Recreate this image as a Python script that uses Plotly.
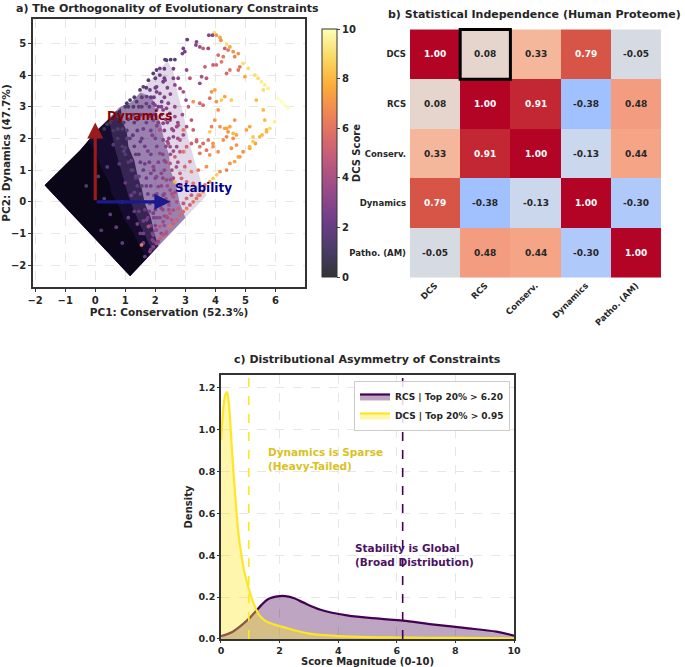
import plotly.graph_objects as go

FONT = "DejaVu Sans"
INK = "#262626"

# ---------------- a) PCA cloud ----------------
# outlines of the dense part of the cloud, from the packed core outwards (PC1, PC2)
core_l1_x = [-1.68, 1.16, 1.72, 1.45, 1.25, 0.95, 0.80, 0.55, 0.45, 0.20, 0.05, -0.20, -0.50, -1.68]
core_l1_y = [0.52, -2.34, -1.78, -1.35, -0.95, -0.55, -0.15, 0.25, 0.65, 1.05, 1.45, 1.95, 1.63, 0.52]
core_l2_x = [-1.68, 1.16, 1.92, 1.70, 1.50, 1.30, 1.10, 0.95, 0.80, 0.65, 0.45, 0.06, -0.50, -1.68]
core_l2_y = [0.52, -2.34, -1.58, -1.15, -0.75, -0.30, 0.20, 0.70, 1.20, 1.70, 2.60, 2.26, 1.63, 0.52]
core_l3_x = [-1.68, 1.16, 2.10, 1.95, 1.85, 1.65, 1.55, 1.40, 1.30, 1.10, 1.05, 0.90, 0.85, 0.06, -0.50, -1.68]
core_l3_y = [0.52, -2.34, -1.40, -0.95, -0.50, -0.05, 0.40, 0.85, 1.30, 1.75, 2.20, 2.55, 2.95, 2.26, 1.63, 0.52]
core_l4_x = [-1.68, 1.16, 3.00, 2.80, 2.70, 2.50, 2.45, 2.30, 2.20, 2.00, 1.90, 1.50, 1.20, 0.82, 0.06, -0.50, -1.68]
core_l4_y = [0.52, -2.34, -0.50, 0.00, 0.50, 1.00, 1.50, 1.90, 2.40, 2.90, 3.30, 3.45, 3.15, 2.99, 2.26, 1.63, 0.52]
core_l5_x = [-1.68, 1.16, 3.70, 3.50, 3.30, 3.10, 2.95, 2.75, 2.60, 2.40, 1.90, 1.50, 1.20, 0.82, 0.06, -0.50, -1.68]
core_l5_y = [0.52, -2.34, 0.20, 0.70, 1.30, 2.00, 2.70, 3.40, 4.10, 4.45, 3.90, 3.45, 3.15, 2.99, 2.26, 1.63, 0.52]

# single proteins outside the dense core: (PC1, PC2, DCS score)
pts_top = [
    (3.96, 5.34, 9.0), (3.78, 5.26, 3.0), (3.90, 5.26, 3.0), (4.03, 5.26, 7.0), (4.15, 5.19, 7.5),
    (4.18, 5.10, 7.0), (4.37, 4.98, 9.0), (4.48, 4.89, 7.5), (4.31, 4.84, 5.0), (4.42, 4.79, 6.0),
    (4.59, 4.74, 7.0), (4.09, 4.63, 5.5), (4.26, 4.58, 6.0), (4.64, 4.58, 6.5), (4.76, 4.68, 7.0),
    (3.37, 5.05, 3.0), (3.35, 4.95, 3.0), (3.48, 4.89, 3.5), (3.59, 4.84, 5.0), (3.76, 4.84, 3.5),
    (3.06, 5.12, 2.0), (2.93, 4.84, 2.5), (2.98, 4.74, 2.5), (2.90, 4.68, 2.5), (4.20, 4.42, 6.0),
    (4.03, 4.32, 5.5), (3.92, 4.32, 5.0), (4.81, 4.26, 6.0), (4.76, 4.16, 6.0), (4.92, 4.37, 9.0),
    (5.09, 4.21, 9.0), (4.48, 4.16, 6.0), (4.37, 4.05, 5.5), (3.65, 4.26, 5.0), (3.54, 3.95, 4.0),
    (3.70, 3.90, 4.5), (3.48, 3.74, 3.5), (3.15, 3.90, 4.5), (3.04, 4.16, 3.5), (2.76, 3.90, 3.0),
    (2.65, 3.69, 3.0), (2.82, 3.58, 3.5), (2.93, 3.47, 4.0), (3.02, 3.21, 3.5), (3.10, 3.00, 5.0),
    (3.26, 3.16, 7.0), (3.48, 3.11, 5.5), (3.59, 3.05, 5.5), (3.81, 3.27, 6.0), (3.87, 3.47, 7.0),
    (3.98, 3.53, 7.5), (4.03, 3.16, 7.0), (4.20, 3.21, 8.5), (4.31, 3.32, 7.5), (4.53, 3.21, 8.5),
    (4.98, 3.95, 7.5), (5.31, 4.00, 9.0), (5.42, 3.90, 9.0), (5.53, 3.79, 9.5), (5.64, 3.69, 9.5),
    (5.75, 3.58, 9.5), (5.59, 3.53, 9.0), (5.36, 3.21, 8.0), (5.59, 2.90, 8.0), (6.08, 3.26, 10.0),
    (6.20, 3.16, 10.0), (6.31, 3.05, 10.0), (6.42, 2.95, 10.0), (5.97, 2.53, 9.5),
]
pts_mid = [
    (5.64, 2.58, 8.0), (5.70, 2.27, 8.0), (5.55, 2.11, 8.0), (5.14, 2.37, 7.5), (5.03, 2.27, 7.5),
    (5.25, 2.05, 8.5), (5.33, 1.84, 7.5), (5.14, 1.69, 7.5), (4.92, 1.58, 7.0), (4.70, 2.11, 7.5),
    (4.64, 2.58, 7.0), (4.48, 2.37, 7.5), (4.42, 2.21, 7.0), (4.31, 2.32, 7.5), (4.37, 2.05, 6.5),
    (4.59, 2.00, 7.0), (4.70, 1.79, 7.0), (4.53, 1.69, 7.0), (4.81, 1.42, 7.0), (4.09, 2.90, 7.0),
    (3.98, 2.58, 7.0), (3.87, 2.37, 6.5), (3.81, 2.21, 8.5), (3.92, 1.74, 7.0), (4.09, 1.58, 7.0),
    (3.76, 1.95, 6.0), (3.59, 1.84, 5.5), (3.48, 1.74, 6.0), (3.37, 1.90, 5.0), (3.20, 2.58, 4.5),
    (3.26, 2.27, 5.0), (3.04, 2.37, 4.0), (2.93, 2.11, 3.5), (2.82, 1.95, 4.5), (2.71, 2.37, 3.5),
    (2.65, 2.69, 3.5), (2.48, 2.79, 3.0), (2.43, 3.11, 3.0), (2.26, 2.90, 3.0), (2.15, 3.42, 3.0),
    (2.04, 3.63, 2.5), (2.32, 3.84, 2.5), (2.15, 4.21, 2.5), (2.32, 4.49, 1.5), (2.51, 4.49, 1.5),
    (2.65, 4.49, 1.5), (1.99, 3.05, 3.0), (1.93, 2.58, 3.0),
]
pts_ridge = [
    (2.37, 4.47, 1.5), (2.04, 4.16, 1.5), (1.93, 4.05, 1.5), (2.15, 4.00, 2.0), (1.77, 3.84, 1.5),
    (2.26, 3.79, 2.0), (1.60, 3.63, 1.5), (1.49, 3.53, 1.2), (1.82, 3.53, 2.0), (2.04, 3.47, 2.5),
    (1.71, 3.32, 2.0), (1.16, 3.21, 1.0), (1.05, 3.11, 1.0), (1.27, 3.00, 1.2), (1.38, 3.16, 1.2),
    (1.93, 3.11, 2.5), (2.21, 3.16, 2.5), (2.37, 2.95, 3.0), (2.04, 2.90, 2.5), (2.26, 2.48, 3.0),
    (2.49, 2.58, 3.0), (2.76, 2.42, 4.0), (2.93, 2.27, 6.0), (2.60, 2.05, 3.0), (2.43, 1.84, 4.0),
    (2.71, 1.74, 3.5), (2.93, 1.58, 6.0), (1.70, 3.60, 1.6), (2.00, 3.60, 2.0), (2.40, 3.60, 2.6),
    (2.00, 3.90, 1.8), (2.30, 3.90, 2.2), (2.60, 3.90, 2.8), (2.30, 4.20, 1.8), (2.60, 4.20, 2.5),
]
pts_edge = [
    (5.81, 2.32, 9.0), (5.70, 2.21, 8.0), (5.47, 2.05, 8.0), (5.25, 1.90, 8.5), (5.14, 1.74, 8.0),
    (4.76, 1.42, 7.5), (4.64, 1.27, 7.5), (4.48, 1.21, 7.0), (4.37, 1.00, 6.5), (4.15, 0.95, 7.0),
    (4.04, 0.85, 8.5), (3.92, 0.74, 8.5), (3.81, 0.63, 7.0), (3.65, 0.53, 6.0), (3.59, 0.32, 7.0),
    (3.48, 0.21, 6.0), (3.37, 0.11, 6.0), (3.26, 0.00, 6.0), (3.15, -0.10, 5.0), (3.04, -0.21, 6.5),
    (2.93, -0.31, 5.5), (2.82, -0.42, 5.5), (2.71, -0.57, 5.0), (2.60, -0.68, 5.0), (2.49, -0.78, 6.0),
    (2.37, -0.94, 4.5), (2.26, -1.05, 4.5), (2.15, -1.15, 5.0), (2.04, -1.31, 3.5), (1.93, -1.42, 3.0),
    (1.82, -1.57, 3.0), (1.65, -1.73, 2.0), (1.54, -1.36, 6.0),
]
pts_inner = [
    (4.15, 2.37, 7.0), (4.37, 2.32, 7.5), (4.59, 2.16, 8.0), (4.26, 1.95, 7.0), (3.92, 1.84, 7.0),
    (3.70, 1.63, 6.0), (3.81, 1.48, 7.0), (3.48, 1.53, 6.0), (3.37, 1.95, 5.5), (3.20, 1.84, 5.0),
    (3.04, 1.74, 5.5), (3.15, 1.27, 5.5), (2.98, 1.11, 5.5), (3.20, 0.95, 6.5), (3.43, 1.00, 6.0),
    (3.70, 1.11, 7.0), (2.82, 0.90, 5.0), (2.65, 0.63, 8.0), (2.87, 0.74, 5.5), (3.04, 0.63, 5.0),
    (3.26, 0.58, 6.0), (3.43, 0.21, 6.5), (3.20, 0.21, 5.0), (3.04, 0.11, 5.5), (2.93, -0.05, 4.5),
    (2.71, 0.00, 4.0), (2.76, -0.21, 5.0), (2.60, -0.26, 4.0), (2.49, -0.36, 4.5), (2.37, -0.47, 4.0),
    (2.54, -0.57, 4.5), (2.26, -0.63, 3.5), (2.15, -0.78, 4.5), (2.04, -0.89, 3.5), (1.93, -1.05, 3.0),
    (2.49, 0.37, 3.5), (2.60, 0.16, 4.5), (2.26, 0.21, 3.0), (2.37, 0.69, 3.5), (2.49, 1.21, 4.5),
    (2.65, 1.42, 5.0), (2.82, 1.58, 4.5), (2.49, 1.74, 3.5), (2.26, 1.95, 3.0), (2.15, 1.53, 3.0),
    (2.15, 2.27, 4.0), (1.93, 1.11, 3.0), (2.04, 0.79, 3.0), (2.10, 0.48, 3.0), (1.82, -0.05, 2.5),
    (1.93, -0.36, 2.5), (1.71, -0.57, 2.5), (1.77, -0.78, 4.0), (1.60, -1.00, 2.5),
]
pts_band = [
    (1.40, 2.60, 1.8), (1.60, 2.30, 2.2), (1.80, 2.70, 2.4), (1.50, 1.90, 2.0), (1.75, 1.60, 2.5),
    (1.90, 2.10, 2.6), (2.05, 2.40, 2.8), (1.65, 1.20, 2.2), (1.85, 0.90, 2.6), (1.70, 0.50, 2.3),
    (1.95, 0.20, 2.8), (2.20, 0.90, 3.0), (2.30, 1.30, 3.2), (2.40, 1.90, 3.3), (2.35, 2.60, 3.0),
    (2.55, 2.30, 3.4), (1.55, 0.00, 2.2), (1.80, -0.30, 2.6), (2.05, -0.50, 3.0), (2.20, -0.20, 3.2),
    (2.35, 0.10, 3.4), (1.45, 0.80, 2.0), (1.35, 1.50, 1.8), (1.25, 2.10, 1.6), (1.10, 2.60, 1.4),
    (1.45, 3.00, 1.6), (1.70, 3.10, 2.0), (1.95, 3.30, 2.2), (2.20, 3.00, 2.8), (2.50, 3.40, 3.0),
    (2.60, 1.60, 3.6), (2.70, 1.10, 3.8), (2.50, 0.70, 3.6), (2.65, 0.30, 3.8), (2.45, -0.10, 3.6),
    (2.30, -0.45, 3.5), (2.00, -0.90, 3.2), (1.90, -1.20, 2.8), (1.60, -0.60, 2.4), (1.45, -0.30, 2.0),
    (1.30, 0.30, 1.8), (1.20, 1.00, 1.6), (1.00, 1.70, 1.4), (0.90, 2.30, 1.2), (0.75, 2.70, 1.0),
    (0.55, 2.60, 0.8), (0.40, 2.45, 0.8), (0.30, 2.30, 0.6), (0.70, 2.80, 0.9), (1.00, 3.00, 1.1),
    (1.30, 3.30, 1.3), (1.55, 3.30, 1.6), (1.85, 3.30, 2.0), (2.30, 3.30, 2.6), (1.10, 3.00, 1.1),
    (1.55, 3.00, 1.7), (1.80, 3.00, 2.0), (2.10, 3.00, 2.4), (2.65, 3.00, 3.2), (0.80, 2.75, 0.9),
    (1.25, 2.75, 1.4), (1.50, 2.75, 1.7), (1.95, 2.75, 2.3), (2.20, 2.75, 2.8), (2.90, 2.75, 3.8),
    (0.50, 2.50, 0.7), (0.95, 2.50, 1.1), (1.30, 2.50, 1.6), (1.70, 2.50, 2.1), (2.10, 2.50, 2.6),
    (2.40, 2.50, 3.0), (2.75, 2.50, 3.2), (0.60, 2.25, 0.9), (1.05, 2.25, 1.3), (1.40, 2.25, 1.8),
    (1.85, 2.25, 2.4), (2.30, 2.25, 2.9), (2.60, 2.25, 3.4), (0.75, 2.00, 1.0), (1.15, 2.00, 1.5),
    (1.55, 2.00, 2.0), (2.00, 2.00, 2.5), (2.45, 2.00, 3.2), (2.75, 2.00, 3.6), (0.90, 1.75, 1.2),
    (1.30, 1.75, 1.6), (1.65, 1.75, 2.2), (2.05, 1.75, 2.7), (2.35, 1.75, 3.0), (1.00, 1.50, 1.3),
    (1.45, 1.50, 1.8), (1.85, 1.50, 2.4), (2.25, 1.50, 2.9), (2.50, 1.50, 3.6), (1.10, 1.25, 1.4),
    (1.50, 1.25, 2.0), (1.80, 1.25, 2.3), (2.10, 1.25, 2.8), (2.35, 1.25, 3.4), (2.75, 1.25, 4.0),
    (1.25, 1.00, 1.5), (1.60, 1.00, 2.0), (1.95, 1.00, 2.6), (2.30, 1.00, 3.1), (2.55, 1.00, 3.8),
    (1.35, 0.75, 1.6), (1.70, 0.75, 2.2), (2.00, 0.75, 2.7), (2.25, 0.75, 3.0), (2.60, 0.75, 3.8),
    (1.40, 0.50, 1.6), (1.55, 0.50, 2.0), (1.85, 0.50, 2.5), (2.20, 0.50, 3.2), (2.40, 0.50, 3.7),
    (2.85, 0.50, 4.4), (1.50, 0.25, 1.8), (1.75, 0.25, 2.2), (2.05, 0.25, 2.8), (2.30, 0.25, 3.3),
    (2.55, 0.25, 4.0), (1.65, 0.00, 2.0), (1.95, 0.00, 2.6), (2.15, 0.00, 3.0), (2.45, 0.00, 3.6),
    (1.65, -0.25, 2.0), (2.00, -0.25, 2.7), (2.25, -0.25, 3.2), (2.45, -0.25, 3.8), (1.75, -0.50, 2.3),
    (1.95, -0.50, 2.6), (2.15, -0.50, 3.0), (2.40, -0.50, 3.7), (1.85, -0.75, 2.5), (2.00, -0.75, 2.8),
    (2.30, -0.75, 3.6), (1.90, -1.00, 2.6), (2.20, -1.00, 3.2), (2.35, -1.00, 4.0), (1.95, -1.25, 2.6),
    (2.10, -1.25, 3.0), (1.85, -1.50, 2.4),
]
# lighter specks inside the dark core
pts_core = [
    (0.90, 0.00, 2.0), (1.10, -0.50, 2.2), (1.30, -0.30, 1.8), (1.00, 0.60, 2.0), (0.80, 1.20, 1.6),
    (0.60, 1.80, 1.5), (1.20, 0.20, 2.4), (1.50, -1.00, 2.2), (1.40, -0.70, 2.6), (0.95, 1.60, 1.8),
    (0.75, 2.30, 1.4), (1.05, 2.00, 1.8), (1.20, 1.30, 2.0), (1.60, -1.30, 2.4), (1.35, 0.80, 2.2),
    (0.30, 0.10, 1.5), (0.50, -0.40, 1.8), (0.10, 0.80, 1.4), (0.70, -0.80, 2.0), (0.20, -0.90, 1.5),
    (-0.30, 0.50, 1.2), (0.90, -1.30, 1.8), (0.40, 1.10, 1.5),
]

# PCA loading arrows
loading_names = ["Dynamics", "Stability"]
loading_dx = [0.0, 2.5]
loading_dy = [2.5, 0.0]

# ---------------- b) correlation matrix ----------------
labels = ["DCS", "RCS", "Conserv.", "Dynamics", "Patho. (AM)"]
corr = [
    [1.00, 0.08, 0.33, 0.79, -0.05],
    [0.08, 1.00, 0.91, -0.38, 0.48],
    [0.33, 0.91, 1.00, -0.13, 0.44],
    [0.79, -0.38, -0.13, 1.00, -0.30],
    [-0.05, 0.48, 0.44, -0.30, 1.00],
]
highlight = ("DCS", "RCS")

# ---------------- c) score densities ----------------
dcs_x = [0, 0.05, 0.1, 0.15, 0.2, 0.25, 0.3, 0.35, 0.4, 0.5, 0.6, 0.7, 0.8, 0.95, 1.1, 1.3,
         1.5, 1.8, 2.1, 2.5, 3.0, 3.5, 4.0, 5.0, 6.0, 7.0, 8.0, 9.0, 10.0]
dcs_y = [0.95, 1.05, 1.13, 1.17, 1.18, 1.15, 1.07, 0.96, 0.85, 0.66, 0.50, 0.40, 0.32, 0.24, 0.175,
         0.115, 0.088, 0.07, 0.058, 0.042, 0.026, 0.019, 0.014, 0.009, 0.007, 0.006, 0.005, 0.004, 0.003]
rcs_x = [0, 0.4, 0.9, 1.3, 1.6, 2.0, 2.2, 2.5, 2.8, 3.4, 4.3, 5.4, 6.2, 7.2, 8.3, 9.4, 10.0]
rcs_y = [0.014, 0.035, 0.09, 0.15, 0.19, 0.205, 0.205, 0.195, 0.175, 0.14, 0.113, 0.097, 0.088,
         0.07, 0.053, 0.035, 0.016]
dcs_top20 = 0.95
rcs_top20 = 6.20

RCS_COL = "#440154"
DCS_COL = "#FDE725"


def blend(hexcol, alpha=0.8):
    # matplotlib-like alpha over a white background
    h = hexcol.lstrip("#")
    rgb = [int(h[i:i + 2], 16) for i in (0, 2, 4)]
    return "#" + "".join("%02x" % round(c * alpha + 255 * (1 - alpha)) for c in rgb)


inferno = ["#000004", "#1b0c41", "#4a0c6b", "#781c6d", "#a52c60",
           "#cf4446", "#ed6925", "#fb9b06", "#f7d13d", "#fcffa4"]
inferno_soft = [[i / (len(inferno) - 1), blend(c)] for i, c in enumerate(inferno)]
coolwarm = ["#3b4cc0", "#5977e3", "#7b9ff9", "#9ebeff", "#c0d4f5", "#dddcdc",
            "#f2cbb7", "#f7ac8e", "#ee8468", "#d65244", "#b40426"]
coolwarm_scale = [[i / (len(coolwarm) - 1), c] for i, c in enumerate(coolwarm)]

fig = go.Figure()

# dense core as stacked filled outlines, lightest (widest) first
for xs, ys, col, op in [(core_l5_x, core_l5_y, "#6b3590", 0.2),
                        (core_l4_x, core_l4_y, "#46186a", 0.45),
                        (core_l3_x, core_l3_y, "#1e0e3c", 0.8),
                        (core_l2_x, core_l2_y, "#140a2c", 0.92),
                        (core_l1_x, core_l1_y, "#0a0618", 1.0)]:
    fig.add_trace(go.Scatter(x=xs, y=ys, mode="lines", fill="toself", fillcolor=col,
                             line=dict(width=0), opacity=op, hoverinfo="skip",
                             showlegend=False, xaxis="x", yaxis="y"))

pts = pts_core + pts_band + pts_inner + pts_ridge + pts_mid + pts_edge + pts_top
fig.add_trace(go.Scatter(
    x=[p[0] for p in pts], y=[p[1] for p in pts], mode="markers",
    marker=dict(size=3.8, color=[p[2] for p in pts], colorscale=inferno_soft, cmin=0, cmax=10,
                line=dict(width=0),
                colorbar=dict(x=0.4555, xanchor="left", y=0.5697, yanchor="bottom",
                              len=0.4018, lenmode="fraction", thickness=15,
                              outlinewidth=1, outlinecolor="#333333",
                              tickvals=[0, 2, 4, 6, 8, 10], ticks="outside", ticklen=3,
                              tickfont=dict(family=FONT, size=10, color=INK, weight="bold"),
                              title=dict(text="DCS Score", side="right",
                                         font=dict(family=FONT, size=10, color=INK, weight="bold")))),
    showlegend=False, xaxis="x", yaxis="y"))

arrow_cols = ["#9b1a1a", "#1a1a8f"]
label_cols = ["#8b0000", "#00008b"]
label_pos = [(0.33, 2.72), (2.6, 0.43)]
for name, dx, dy, ac, lc, (lx, ly) in zip(loading_names, loading_dx, loading_dy,
                                          arrow_cols, label_cols, label_pos):
    fig.add_annotation(x=dx, y=dy, ax=0, ay=0, xref="x", yref="y", axref="x", ayref="y",
                       text="", showarrow=True, arrowhead=2, arrowsize=1.0, arrowwidth=3.2,
                       arrowcolor=ac)
    fig.add_annotation(x=lx, y=ly, xref="x", yref="y", text=name, showarrow=False,
                       xanchor="left", font=dict(family=FONT, size=12, color=lc, weight="bold"))

# heatmap
fig.add_trace(go.Heatmap(z=corr, x=labels, y=labels, colorscale=coolwarm_scale, zmin=-1, zmax=1,
                         showscale=False, xaxis="x2", yaxis="y2", hoverinfo="skip"))
for i, row in enumerate(corr):
    for j, v in enumerate(row):
        fig.add_annotation(x=labels[j], y=labels[i], xref="x2", yref="y2", text="%.2f" % v,
                           showarrow=False,
                           font=dict(family=FONT, size=9, weight="bold",
                                     color="white" if v > 0.6 else INK))
hi_r, hi_c = labels.index(highlight[0]), labels.index(highlight[1])
fig.add_shape(type="rect", xref="x2", yref="y2", x0=hi_c - 0.5, x1=hi_c + 0.5,
              y0=hi_r - 0.5, y1=hi_r + 0.5, line=dict(color="black", width=3))

# densities
fig.add_trace(go.Scatter(x=rcs_x, y=rcs_y, mode="lines", line=dict(color=RCS_COL, width=2.2, shape="spline"),
                         fill="tozeroy", fillcolor="rgba(68,1,84,0.35)",
                         name="RCS | Top 20%% > %.2f" % rcs_top20, xaxis="x3", yaxis="y3"))
fig.add_trace(go.Scatter(x=dcs_x, y=dcs_y, mode="lines", line=dict(color=DCS_COL, width=2.2, shape="spline"),
                         fill="tozeroy", fillcolor="rgba(253,231,37,0.38)",
                         name="DCS | Top 20%% > %.2f" % dcs_top20, xaxis="x3", yaxis="y3"))
for xv, col in [(rcs_top20, RCS_COL), (dcs_top20, DCS_COL)]:
    fig.add_shape(type="line", xref="x3", yref="y3 domain", x0=xv, x1=xv, y0=0, y1=1,
                  line=dict(color=col, width=1.6, dash="dash"))
fig.add_annotation(x=1.52, y=0.86, xref="x3", yref="y3", xanchor="left", align="left",
                   text="Dynamics is Sparse<br>(Heavy-Tailed)", showarrow=False,
                   font=dict(family=FONT, size=10.5, color="#d9c21f", weight="bold"))
fig.add_annotation(x=4.52, y=0.40, xref="x3", yref="y3", xanchor="left", align="left",
                   text="Stability is Global<br>(Broad Distribution)", showarrow=False,
                   font=dict(family=FONT, size=10.5, color="#4b1263", weight="bold"))

# panel titles
for txt, px, py in [("a) The Orthogonality of Evolutionary Constraints", 0.2438, 0.988),
                    ("b) Statistical Independence (Human Proteome)", 0.781, 0.979),
                    ("c) Distributional Asymmetry of Constraints", 0.5358, 0.4603)]:
    fig.add_annotation(x=px, y=py, xref="paper", yref="paper", text=txt, showarrow=False,
                       xanchor="center", yanchor="middle",
                       font=dict(family=FONT, size=11, color=INK, weight="bold"))

tick_font = dict(family=FONT, size=10, color=INK, weight="bold")
lab_font = dict(family=FONT, size=10.5, color=INK, weight="bold")
framed = dict(showline=True, mirror=True, linecolor="#333333", linewidth=1.5, ticks="outside",
              ticklen=3, tickcolor="#333333", showgrid=True, gridcolor="#e6e6e6", griddash="dash",
              zeroline=False, tickfont=tick_font, automargin=False)
framed_c = dict(framed, ticklen=2, tickfont=dict(tick_font, size=9.5))

fig.update_layout(
    width=685, height=667, margin=dict(l=0, r=0, t=0, b=0),
    paper_bgcolor="white", plot_bgcolor="white",
    font=dict(family=FONT, color=INK, weight="bold"),
    xaxis=dict(domain=[0.0482, 0.4453], range=[-2.07, 6.98], dtick=1, anchor="y",
               title=dict(text="PC1: Conservation (52.3%)", font=lab_font, standoff=2), **framed),
    yaxis=dict(domain=[0.5697, 0.9715], range=[-2.69, 5.77], dtick=1, anchor="x",
               title=dict(text="PC2: Dynamics (47.7%)", font=lab_font, standoff=2), **framed),
    xaxis2=dict(domain=[0.5985, 0.965], anchor="y2", tickangle=-45, showgrid=False, zeroline=False,
                tickfont=dict(family=FONT, size=8.5, color=INK, weight="bold"), ticks="",
                automargin=False),
    yaxis2=dict(domain=[0.5832, 0.958], anchor="x2", autorange="reversed", showgrid=False,
                zeroline=False, tickfont=dict(family=FONT, size=8.5, color=INK, weight="bold"),
                ticks="", ticksuffix=" ", automargin=False),
    xaxis3=dict(domain=[0.3226, 0.7504], range=[0, 10], dtick=2, anchor="y3",
                title=dict(text="Score Magnitude (0-10)", font=dict(lab_font, size=10), standoff=0),
                **framed_c),
    yaxis3=dict(domain=[0.042, 0.4378], range=[0, 1.262], dtick=0.2, tickformat=".1f", anchor="x3",
                title=dict(text="Density", font=dict(lab_font, size=10), standoff=4), **framed_c),
    legend=dict(x=0.7445, xanchor="right", y=0.4288, yanchor="top", bgcolor="rgba(255,255,255,0.85)",
                bordercolor="#cccccc", borderwidth=1,
                font=dict(family=FONT, size=9, color=INK, weight="bold"), tracegroupgap=0),
)

# the page body has a default 8px margin; drop it so the figure fills the window
fig.write_html("out.html", config={"displayModeBar": False},
               post_script="document.body.style.margin = '0';")
